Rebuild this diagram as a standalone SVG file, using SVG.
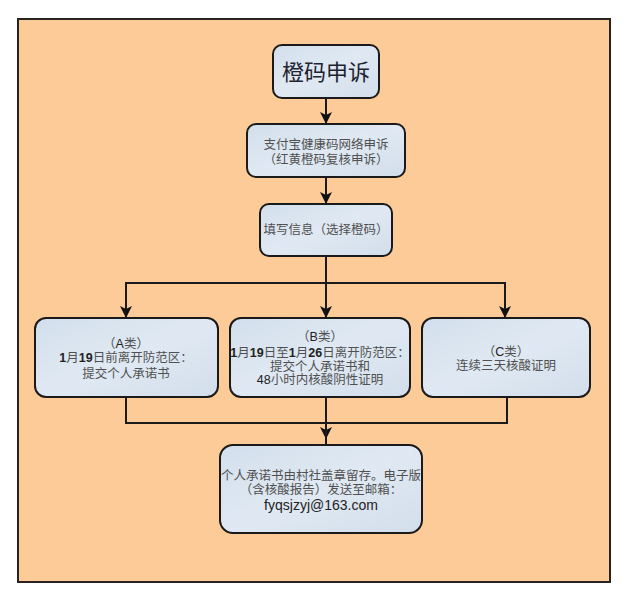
<svg xmlns="http://www.w3.org/2000/svg" width="640" height="600" viewBox="0 0 640 600">
<defs>
<linearGradient id="g" x1="0" y1="0" x2="1" y2="1">
<stop offset="0" stop-color="#d2dfec"/>
<stop offset="0.5" stop-color="#e0e9f3"/>
<stop offset="1" stop-color="#d2deeb"/>
</linearGradient>
<marker id="ah" viewBox="0 0 12 12" refX="11" refY="6" markerWidth="12" markerHeight="12" markerUnits="userSpaceOnUse" orient="auto">
<path d="M0,0 L12,6 L0,12 L3,6 Z" fill="#111"/>
</marker>
<style>
.node{fill:url(#g);stroke:#1a1a1a;stroke-width:2}
.t{font-family:"Liberation Sans","Noto Sans CJK SC",sans-serif;font-size:12.5px;fill:#505050;text-anchor:middle}
.c{stroke:#1a1a1a;stroke-width:2;fill:none}
.a{stroke:#1a1a1a;stroke-width:2;fill:none;marker-end:url(#ah)}
</style>
</defs>
<rect width="640" height="600" fill="#ffffff"/>
<rect x="18" y="19" width="592" height="563" fill="#fdcb98" stroke="#2a2420" stroke-width="2"/>
<g id="connectors">
<line class="a" x1="326" y1="98" x2="326" y2="123"/>
<line class="a" x1="326" y1="177" x2="326" y2="203"/>
<line class="c" x1="326" y1="256" x2="326" y2="283"/>
<line class="c" x1="126" y1="283" x2="505" y2="283"/>
<line class="a" x1="126" y1="282" x2="126" y2="317"/>
<line class="a" x1="326" y1="283" x2="326" y2="317"/>
<line class="a" x1="505" y1="282" x2="505" y2="317"/>
<line class="c" x1="126" y1="397" x2="126" y2="423"/>
<line class="c" x1="507" y1="397" x2="507" y2="423"/>
<line class="c" x1="125" y1="423" x2="508" y2="423"/>
<line class="a" x1="326" y1="397" x2="326" y2="438"/>
<line class="a" x1="326" y1="423" x2="326" y2="457"/>
</g>
<g id="n1">
<rect class="node" x="273" y="45" width="106" height="53" rx="9"/>
<text x="326" y="80" class="t" style="font-size:22px;fill:#1f2330">橙码申诉</text>
</g>
<g id="n2">
<rect class="node" x="247" y="124" width="158" height="53" rx="9"/>
<text x="326" y="149" class="t">支付宝健康码网络申诉</text>
<text x="326" y="164" class="t">（红黄橙码复核申诉）</text>
</g>
<g id="n3">
<rect class="node" x="260" y="204" width="132" height="52" rx="9"/>
<text x="326" y="234" class="t">填写信息（选择橙码）</text>
</g>
<g id="nA">
<rect class="node" x="35" y="318" width="183" height="79" rx="11"/>
<text x="126" y="348" class="t">（<tspan fill="#222">A</tspan>类）</text>
<text x="126" y="362" class="t"><tspan fill="#222" font-weight="bold">1</tspan>月<tspan fill="#222" font-weight="bold">19</tspan>日前离开防范区：</text>
<text x="126" y="378" class="t">提交个人承诺书</text>
</g>
<g id="nB">
<rect class="node" x="230" y="318" width="180" height="79" rx="11"/>
<text x="320" y="341" class="t">（<tspan fill="#222">B</tspan>类）</text>
<text x="320" y="357" class="t"><tspan fill="#222" font-weight="bold">1</tspan>月<tspan fill="#222" font-weight="bold">19</tspan>日至<tspan fill="#222" font-weight="bold">1</tspan>月<tspan fill="#222" font-weight="bold">26</tspan>日离开防范区：</text>
<text x="320" y="371" class="t">提交个人承诺书和</text>
<text x="320" y="384" class="t"><tspan fill="#222">48</tspan>小时内核酸阴性证明</text>
</g>
<g id="nC">
<rect class="node" x="422" y="318" width="168" height="79" rx="11"/>
<text x="506" y="356" class="t">（<tspan fill="#222">C</tspan>类）</text>
<text x="506" y="370" class="t">连续三天核酸证明</text>
</g>
<g id="nD">
<rect class="node" x="220" y="445" width="202" height="88" rx="13"/>
<text x="321" y="480" class="t">个人承诺书由村社盖章留存。电子版</text>
<text x="321" y="494" class="t">（含核酸报告）发送至邮箱：</text>
<text x="321" y="510" class="t" style="font-size:14px;fill:#222">fyqsjzyj@163.com</text>
</g>
</svg>
